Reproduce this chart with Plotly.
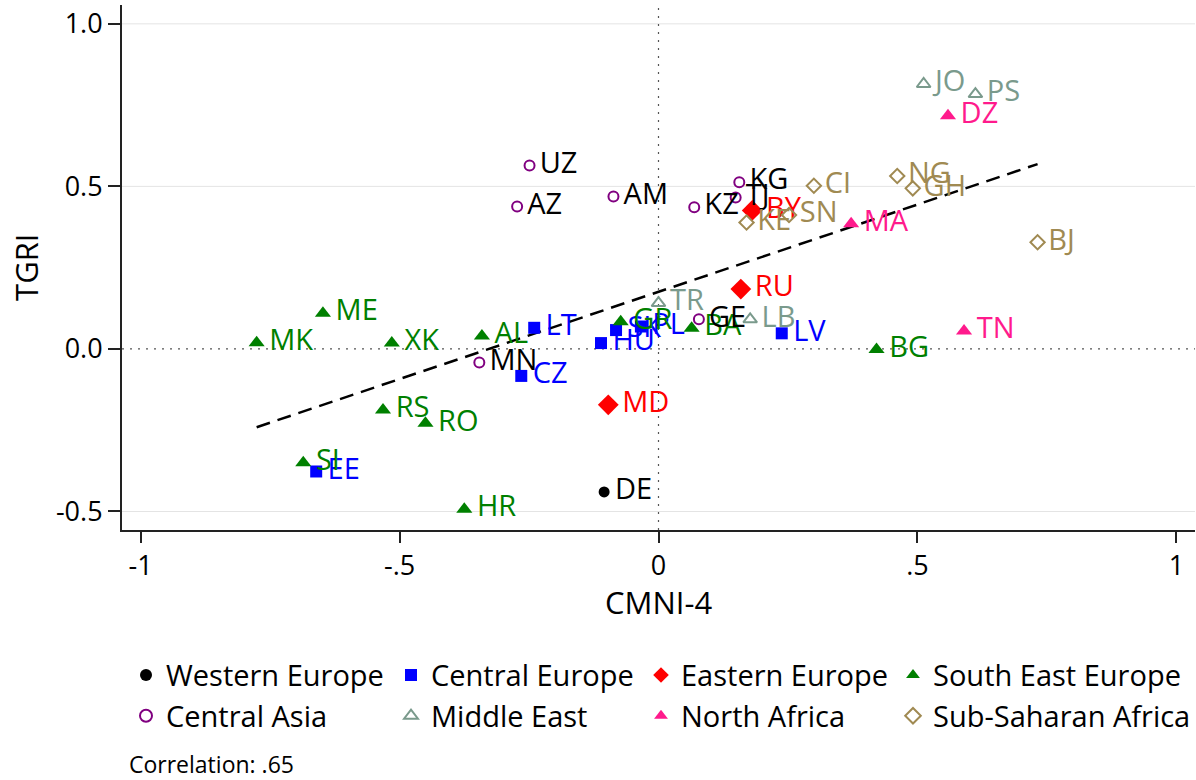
import numpy as np
import plotly.graph_objects as go

# CMNI-4 (x) and TGRI (y) scores by country, grouped by region
we_codes = ["DE"]
we_x = [-0.105]
we_y = [-0.44]

ce_codes = ["LT", "HU", "SK", "PL", "CZ", "EE", "LV"]
ce_x = [-0.240, -0.111, -0.082, -0.034, -0.265, -0.661, 0.238]
ce_y = [0.065, 0.018, 0.058, 0.069, -0.083, -0.377, 0.048]

ee_codes = ["RU", "BY", "MD"]
ee_x = [0.159, 0.181, -0.097]
ee_y = [0.184, 0.426, -0.172]

see_codes = ["MK", "ME", "XK", "AL", "RS", "RO", "SI", "HR", "GR", "BA", "BG"]
see_x = [-0.776, -0.648, -0.515, -0.341, -0.532, -0.450, -0.686, -0.375, -0.073, 0.064, 0.421]
see_y = [0.019, 0.110, 0.018, 0.040, -0.188, -0.229, -0.350, -0.493, 0.084, 0.064, -0.002]

ca_codes = ["UZ", "AZ", "AM", "KZ", "KG", "TJ", "MN", "GE"]
ca_x = [-0.249, -0.273, -0.087, 0.069, 0.156, 0.149, -0.346, 0.078]
ca_y = [0.564, 0.438, 0.469, 0.436, 0.513, 0.466, -0.042, 0.091]

me_codes = ["JO", "PS", "TR", "LB"]
me_x = [0.512, 0.612, 0.000, 0.177]
me_y = [0.815, 0.784, 0.141, 0.091]

na_codes = ["DZ", "MA", "TN"]
na_x = [0.559, 0.372, 0.590]
na_y = [0.717, 0.385, 0.055]

ssa_codes = ["CI", "SN", "KE", "NG", "GH", "BJ"]
ssa_x = [0.300, 0.252, 0.170, 0.461, 0.491, 0.732]
ssa_y = [0.502, 0.412, 0.389, 0.532, 0.494, 0.328]

x_ticks = [-1, -0.5, 0, 0.5, 1]
x_tick_text = ["-1", "-.5", "0", ".5", "1"]
y_ticks = [-0.5, 0.0, 0.5, 1.0]
y_tick_text = ["-0.5", "0.0", "0.5", "1.0"]
correlation_note = "Correlation: .65"

FONT = "Open Sans"
LABEL_SIZE = 29
LEGEND_SIZE = 29

# legend column each region is listed in (two regions per column)
groups = [
    # name, codes, x, y, symbol, marker colour, label colour, size, hollow, legend id
    ("Western Europe", we_codes, we_x, we_y, "circle", "#000000", "#000000", 11, False, "legend"),
    ("Central Europe", ce_codes, ce_x, ce_y, "square", "#0000ff", "#0000ff", 12, False, "legend2"),
    ("Eastern Europe", ee_codes, ee_x, ee_y, "diamond", "#ff0000", "#ff0000", 16, False, "legend3"),
    ("South East Europe", see_codes, see_x, see_y, "triangle-up", "#008000", "#008000", 14, False, "legend4"),
    ("Central Asia", ca_codes, ca_x, ca_y, "circle-open", "#800080", "#000000", 10, True, "legend"),
    ("Middle East", me_codes, me_x, me_y, "triangle-up-open", "#7a9a8c", "#7a9a8c", 12, True, "legend2"),
    ("North Africa", na_codes, na_x, na_y, "triangle-up", "#ff1a8c", "#ff1a8c", 14, False, "legend3"),
    ("Sub-Saharan Africa", ssa_codes, ssa_x, ssa_y, "diamond-open", "#a08a52", "#a08a52", 11, True, "legend4"),
]

fig = go.Figure()

# horizontal grid and dotted reference lines through the origin
grid_shapes = []
for yv in y_ticks:
    if yv != 0:
        grid_shapes.append(dict(type="line", xref="paper", yref="y", x0=0, x1=1, y0=yv, y1=yv,
                                line=dict(color="#e4e4e4", width=1), layer="below"))
grid_shapes.append(dict(type="line", xref="paper", yref="y", x0=0, x1=1, y0=0, y1=0,
                        line=dict(color="#555555", width=1.2, dash="2px,6px"), layer="below"))
grid_shapes.append(dict(type="line", xref="x", yref="paper", x0=0, x1=0, y0=0, y1=1,
                        line=dict(color="#555555", width=1.2, dash="2px,6px"), layer="below"))

# linear fit over all countries
all_x = np.array(we_x + ce_x + ee_x + see_x + ca_x + me_x + na_x + ssa_x)
all_y = np.array(we_y + ce_y + ee_y + see_y + ca_y + me_y + na_y + ssa_y)
slope, intercept = np.polyfit(all_x, all_y, 1)
fit_x = np.array([all_x.min(), all_x.max()])
fit_y = intercept + slope * fit_x
fig.add_trace(go.Scatter(x=fit_x, y=fit_y, mode="lines", showlegend=False,
                         line=dict(color="black", width=2.5, dash="14px,8px"),
                         hoverinfo="skip"))

for name, codes, xs, ys, symbol, mcol, lcol, size, hollow, leg in groups:
    marker = dict(symbol=symbol, color=mcol, size=size)
    if hollow:
        marker["line"] = dict(color=mcol, width=2)
    else:
        marker["line"] = dict(width=0)
    fig.add_trace(go.Scatter(
        x=xs, y=ys, mode="markers+text", name=name,
        text=["\u200a" + c for c in codes],
        textposition="middle right",
        textfont=dict(family=FONT, size=LABEL_SIZE, color=lcol),
        marker=marker, legend=leg,
    ))

# four legend columns under the plot
PLOT_L, PLOT_W = 122, 1074
col_px = [126, 391, 641, 894]
legend_cfg = {}
for i, px in enumerate(col_px):
    key = "legend" if i == 0 else f"legend{i + 1}"
    legend_cfg[key] = dict(
        orientation="v", x=(px - PLOT_L) / PLOT_W, xanchor="left",
        y=-0.228, yanchor="top", font=dict(family=FONT, size=LEGEND_SIZE),
        bgcolor="rgba(0,0,0,0)", itemsizing="constant", tracegroupgap=0,
    )

fig.update_layout(
    width=1196, height=780,
    margin=dict(l=122, r=0, t=5, b=250),
    paper_bgcolor="white", plot_bgcolor="white",
    font=dict(family=FONT, size=26, color="black"),
    shapes=grid_shapes,
    showlegend=True,
    annotations=[
        dict(text="TGRI", xref="paper", yref="paper", x=-0.09, y=0.5, showarrow=False,
             textangle=-90, font=dict(family=FONT, size=31), xanchor="center", yanchor="middle"),
        dict(text="CMNI-4", xref="paper", yref="paper", x=0.5, y=-0.138, showarrow=False,
             font=dict(family=FONT, size=31), xanchor="center", yanchor="middle"),
        dict(text=correlation_note, xref="paper", yref="paper", x=0.005, y=-0.445,
             showarrow=False, font=dict(family=FONT, size=23), xanchor="left", yanchor="middle"),
    ],
    **legend_cfg,
)

fig.update_xaxes(range=[-1.036, 1.036], tickvals=x_ticks, ticktext=x_tick_text,
                 showgrid=False, zeroline=False, showline=True, linecolor="#222222", linewidth=2,
                 ticks="outside", ticklen=11, tickwidth=2, tickcolor="#222222",
                 tickfont=dict(family=FONT, size=27))
fig.update_yaxes(range=[-0.557, 1.058], tickvals=y_ticks, ticktext=y_tick_text,
                 showgrid=False, zeroline=False, showline=True, linecolor="#222222", linewidth=2,
                 ticks="outside", ticklen=12, tickwidth=2, tickcolor="#222222",
                 tickfont=dict(family=FONT, size=27))

fig.write_html("out.html")
